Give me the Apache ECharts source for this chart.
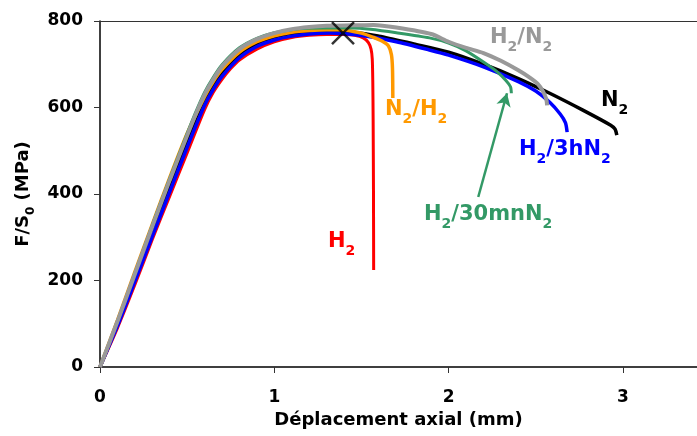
<!DOCTYPE html>
<html>
<head>
<meta charset="utf-8">
<script src="https://cdn.jsdelivr.net/npm/echarts@6/dist/echarts.min.js"></script>
<style>
html,body{margin:0;padding:0;background:#fff;}
#chart{width:697px;height:436px;}
</style>
</head>
<body>
<div id="chart"></div>
<script>
// ---- data (x: déplacement axial en mm, y: F/S0 en MPa) ----
const xTicks = [0, 1, 2, 3];
const yTicks = [0, 200, 400, 600, 800];

const curveH2 = [[0,0],[0.1,90],[0.2,190],[0.3,295],[0.4,395],[0.5,495],[0.6,595],[0.65,635],[0.7,665],[0.75,690],[0.8,710],[0.9,735],[1.0,752],[1.1,762],[1.2,767],[1.3,769],[1.4,769],[1.46,767],[1.51,761],[1.54,750],[1.555,735],[1.562,712],[1.565,660],[1.567,571],[1.569,400],[1.57,224]];
const curveN2 = [[0,0],[0.1,100],[0.2,205],[0.3,312],[0.4,418],[0.5,522],[0.6,615],[0.65,650],[0.7,680],[0.8,722],[0.9,748],[1.0,763],[1.1,771],[1.2,775],[1.3,776],[1.4,776],[1.6,765],[1.8,747],[2.0,728],[2.2,700],[2.4,667],[2.58,633],[2.77,594],[2.93,559],[2.955,550],[2.965,536]];
const curveH2_3hN2 = [[0,0],[0.1,95],[0.2,198],[0.3,302],[0.4,405],[0.5,508],[0.6,605],[0.65,642],[0.7,672],[0.8,715],[0.9,741],[1.0,756],[1.1,765],[1.2,770],[1.32,772],[1.51,766],[1.7,752],[1.89,733],[2.0,721],[2.2,694],[2.4,660],[2.5,638],[2.58,612],[2.64,585],[2.67,565],[2.68,543]];
const curveN2_H2 = [[0,0],[0.1,108],[0.2,220],[0.3,330],[0.4,438],[0.5,540],[0.6,625],[0.65,660],[0.7,688],[0.8,728],[0.9,752],[1.0,766],[1.1,774],[1.2,778],[1.3,780],[1.38,780],[1.5,772],[1.57,762],[1.62,753],[1.655,742],[1.672,722],[1.678,690],[1.68,622]];
const curveH2_30mnN2 = [[0,0],[0.1,106],[0.2,217],[0.3,328],[0.4,436],[0.5,540],[0.55,590],[0.6,635],[0.65,670],[0.7,699],[0.8,738],[0.9,760],[1.0,773],[1.1,780],[1.2,783],[1.3,784],[1.45,784],[1.55,781],[1.7,773],[1.89,761],[2.0,749],[2.1,731],[2.2,705],[2.28,682],[2.33,662],[2.355,648],[2.36,633]];
const curveH2_N2 = [[0,0],[0.1,105],[0.2,215],[0.3,325],[0.4,432],[0.5,535],[0.55,585],[0.6,630],[0.65,665],[0.7,695],[0.8,735],[0.9,758],[1.0,772],[1.1,781],[1.2,786],[1.3,789],[1.45,790],[1.57,791],[1.7,785],[1.9,770],[2.0,752],[2.1,738],[2.2,726],[2.3,708],[2.4,686],[2.47,668],[2.51,655],[2.54,638],[2.56,620],[2.565,605]];

const ruptureMark = [[1.394, 772]];
const arrowFrom = [2.17, 393];
const arrowTo = [2.335, 633];

const seriesNames = ['H2', 'N2', 'H2/3hN2', 'N2/H2', 'H2/30mnN2', 'H2/N2'];
const seriesColors = ['#ff0000', '#000000', '#0000ff', '#ff9900', '#339966', '#999999'];

// ---- chart ----
const FONT = 'DejaVu Sans';
function richFor(color, big, small, drop) {
  return {
    m: { fontFamily: FONT, fontWeight: 'bold', fontSize: big, lineHeight: big + 1, color: color, fill: color, verticalAlign: 'top' },
    s: { fontFamily: FONT, fontWeight: 'bold', fontSize: small, lineHeight: small, color: color, fill: color, padding: [drop, 0, 0, 0], verticalAlign: 'top' }
  };
}
function label(text, x, y, color) {
  return {
    type: 'text', x: x, y: y, z: 100,
    style: { text: text, fill: color, font: 'bold 21px "DejaVu Sans"', rich: richFor(color, 21, 14, 13), verticalAlign: 'top', align: 'left' }
  };
}

const chart = echarts.init(document.getElementById('chart'), null, { renderer: 'canvas' });
const datasets = [curveH2, curveN2, curveH2_3hN2, curveN2_H2, curveH2_30mnN2, curveH2_N2];
const widths = [3, 3.5, 3.5, 3.5, 3, 4];

const series = datasets.map((d, i) => ({
  name: seriesNames[i], type: 'line', data: d, showSymbol: false, symbol: 'none',
  smooth: 0.25, lineStyle: { color: seriesColors[i], width: widths[i] }, z: 2 + i,
  silent: true
}));
series[4].markLine = {
  silent: true, symbol: ['none', 'arrow'], symbolSize: [11, 13],
  label: { show: false },
  lineStyle: { color: '#339966', width: 2.5, type: 'solid' },
  data: [[{ coord: arrowFrom }, { coord: arrowTo }]]
};
series.push({
  type: 'scatter', data: ruptureMark, z: 20, silent: true,
  symbol: 'path://M0,0L10,10M10,0L0,10', symbolSize: 22,
  itemStyle: { color: 'rgba(0,0,0,0)', borderColor: '#000', borderWidth: 2.5 }
});

chart.setOption({
  animation: false,
  backgroundColor: '#fff',
  grid: { left: 100, right: 0, top: 21, bottom: 69, containLabel: false },
  xAxis: [{
    type: 'value', min: 0, max: 3.425, interval: 1,
    name: 'Déplacement axial (mm)', nameLocation: 'middle', nameGap: 44,
    nameTextStyle: { fontFamily: FONT, fontWeight: 'bold', fontSize: 18, color: '#000' },
    axisLine: { show: true, onZero: false, lineStyle: { color: '#000', width: 1.5 } },
    axisTick: { show: true, inside: false, length: 6, customValues: xTicks, lineStyle: { color: '#333' } },
    axisLabel: { customValues: xTicks, margin: 22, fontFamily: FONT, fontWeight: 'bold', fontSize: 17, color: '#000' },
    splitLine: { show: false }
  }, {
    type: 'value', position: 'top', min: 0, max: 3.425,
    axisLine: { show: true, onZero: false, lineStyle: { color: '#333', width: 1 } },
    axisTick: { show: false }, axisLabel: { show: false }, splitLine: { show: false }
  }],
  yAxis: {
    type: 'value', min: 0, max: 800, interval: 200,
    name: '{m|F/S}{s|0}{m| (MPa)}', nameLocation: 'middle', nameGap: 66, nameRotate: 90,
    nameTextStyle: { rich: richFor('#000', 18, 12, 10) },
    axisLine: { show: true, onZero: false, lineStyle: { color: '#000', width: 1.5 } },
    axisTick: { show: true, inside: false, length: 6, customValues: yTicks, lineStyle: { color: '#333' } },
    axisLabel: { customValues: yTicks, margin: 17, fontFamily: FONT, fontWeight: 'bold', fontSize: 17, color: '#000' },
    splitLine: { show: false }
  },
  series: series,
  graphic: [
    label('{m|H}{s|2}{m|/N}{s|2}', 490, 27, '#999999'),
    label('{m|N}{s|2}', 601, 90, '#000000'),
    label('{m|N}{s|2}{m|/H}{s|2}', 385, 99, '#ff9900'),
    label('{m|H}{s|2}{m|/3hN}{s|2}', 519, 139, '#0000ff'),
    label('{m|H}{s|2}{m|/30mnN}{s|2}', 424, 204, '#339966'),
    label('{m|H}{s|2}', 328, 231, '#ff0000')
  ]
});
</script>
</body>
</html>
